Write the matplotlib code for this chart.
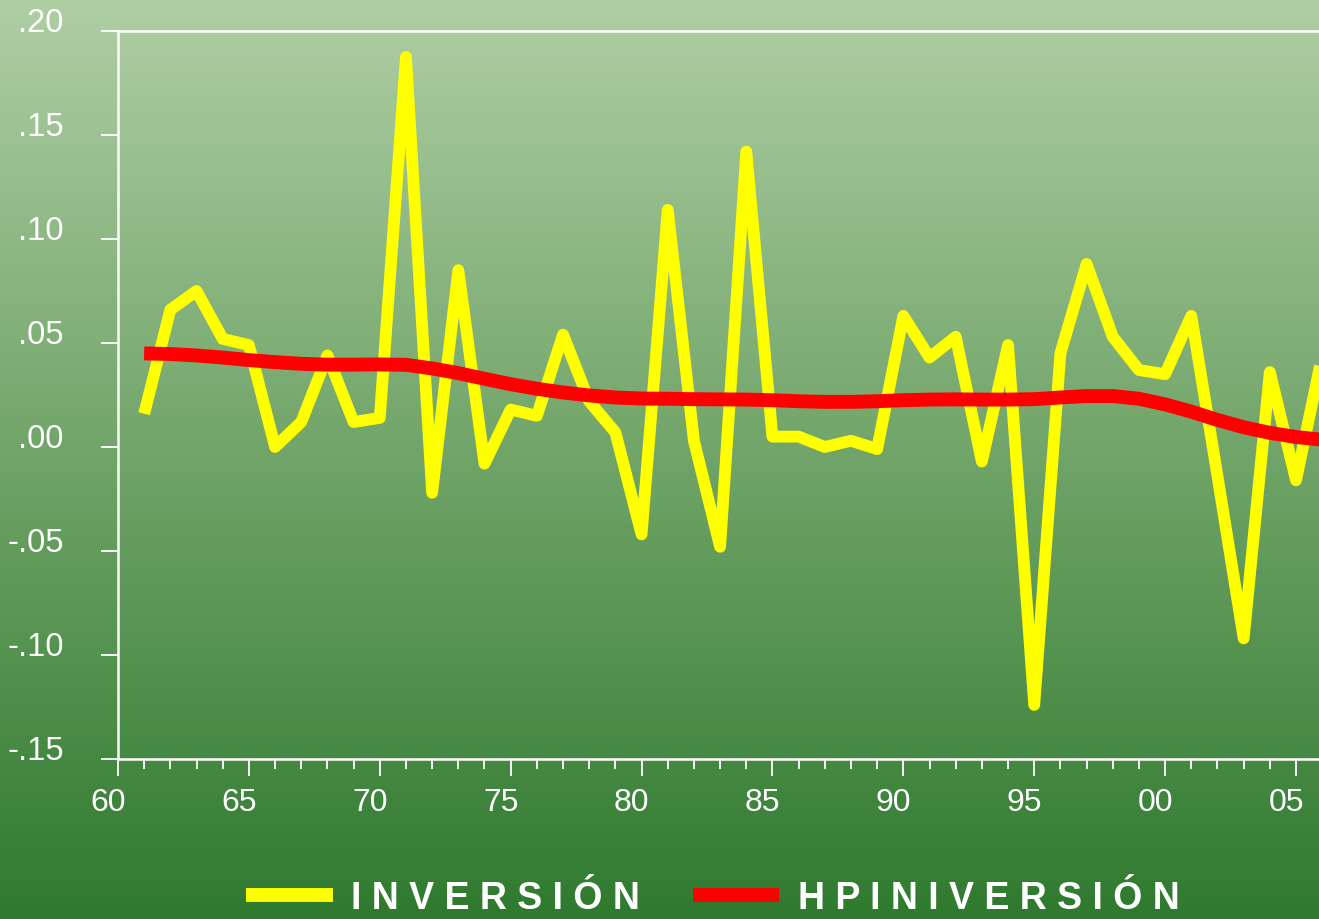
import numpy as np
import matplotlib
matplotlib.use("Agg")
import matplotlib.pyplot as plt
import matplotlib.transforms as mtransforms
from matplotlib.colors import LinearSegmentedColormap
from matplotlib.lines import Line2D

# years of the series
years = list(range(1961, 2007))

# INVERSIÓN (growth rate)
inversion = [0.016, 0.066, 0.075, 0.052, 0.049, 0.000, 0.012, 0.044, 0.012, 0.014,
             0.1875, -0.022, 0.085, -0.008, 0.018, 0.015, 0.054, 0.022, 0.007, -0.042,
             0.114, 0.003, -0.048, 0.142, 0.005, 0.005, 0.000, 0.003, -0.001, 0.063,
             0.043, 0.053, -0.007, 0.049, -0.124, 0.045, 0.088, 0.053, 0.037, 0.035,
             0.063, -0.014, -0.092, 0.036, -0.016, 0.044]

# HP trend of INVERSIÓN
hp_inversion = [0.0450, 0.0447, 0.0440, 0.0430, 0.0418, 0.0408, 0.0400, 0.0396, 0.0396, 0.0397,
                0.0395, 0.0378, 0.0355, 0.0328, 0.0302, 0.0280, 0.0262, 0.0248, 0.0238, 0.0233,
                0.0232, 0.0230, 0.0229, 0.0228, 0.0225, 0.0220, 0.0217, 0.0217, 0.0220, 0.0225,
                0.0228, 0.0229, 0.0228, 0.0228, 0.0230, 0.0238, 0.0245, 0.0245, 0.0232, 0.0205,
                0.0170, 0.0130, 0.0095, 0.0068, 0.0048, 0.0035]

y_ticks = [-0.15, -0.10, -0.05, 0.00, 0.05, 0.10, 0.15, 0.20]
y_tick_labels = ["-.15", "-.10", "-.05", ".00", ".05", ".10", ".15", ".20"]
x_ticks = list(range(1960, 2006, 5))
x_tick_labels = ["60", "65", "70", "75", "80", "85", "90", "95", "00", "05"]

plt.rcParams['font.family'] = ['Liberation Sans', 'DejaVu Sans']

W, H = 1319, 920
fig = plt.figure(figsize=(W / 100, H / 100), dpi=100)

# green gradient background over whole figure
bg = fig.add_axes([0, 0, 1, 1], zorder=0)
cmap = LinearSegmentedColormap.from_list("g", ["#B0CEA4", "#70A468", "#2F7A2F"])
bg.imshow(np.linspace(0, 1, 256).reshape(-1, 1), aspect='auto', cmap=cmap,
          extent=[0, 1, 0, 1], origin='upper')
bg.axis('off')

ax = fig.add_axes([118 / W, 1 - 760 / H, (W - 118) / W, (760 - 32) / H], zorder=1)
ax.patch.set_alpha(0)

ax.plot(years, inversion, color='#FFFF00', lw=8.5, solid_joinstyle='round',
        solid_capstyle='butt', label='I N V E R S I Ó N')
ax.plot(years, hp_inversion, color='#FF0000', lw=10, solid_capstyle='butt',
        label='H P I N I V E R S I Ó N')

ax.set_xlim(1960, 1960 + (W - 118) / 26.178)
ax.set_ylim(-0.15, 0.20)

for s in ['left', 'top', 'bottom']:
    ax.spines[s].set_color('white')
    ax.spines[s].set_linewidth(1.8)
ax.spines['right'].set_visible(False)

ax.set_yticks(y_ticks)
ax.set_yticklabels(y_tick_labels)
ax.set_xticks(x_ticks)
ax.set_xticklabels(x_tick_labels)
ax.set_xticks(years[:-1], minor=True)

ax.tick_params(axis='y', direction='out', length=12, width=1.3, colors='white',
               labelsize=23.5, pad=27)
ax.tick_params(axis='x', which='major', direction='out', length=12, width=1.3,
               colors='white', labelsize=23, pad=8)
ax.tick_params(axis='x', which='minor', direction='out', length=7, width=1.3,
               colors='white')

for lab in ax.get_yticklabels():
    lab.set_verticalalignment('baseline')
shift = mtransforms.ScaledTranslation(-10 / 100, 0, fig.dpi_scale_trans)
for lab in ax.get_xticklabels():
    lab.set_transform(lab.get_transform() + shift)

handles = [Line2D([], [], color='#FFFF00', lw=10, solid_capstyle='butt'),
           Line2D([], [], color='#FF0000', lw=10, solid_capstyle='butt')]
fig.legend(handles, ['I N V E R S I Ó N', 'H P I N I V E R S I Ó N'],
           loc='center', bbox_to_anchor=(713 / W, 1 - 899 / H), ncol=2,
           frameon=False, handlelength=2.3, handletextpad=0.5, columnspacing=1.4,
           borderpad=0.1, prop={'size': 27, 'weight': 'bold'}, labelcolor='white')

fig.savefig('out.png', dpi=100)
